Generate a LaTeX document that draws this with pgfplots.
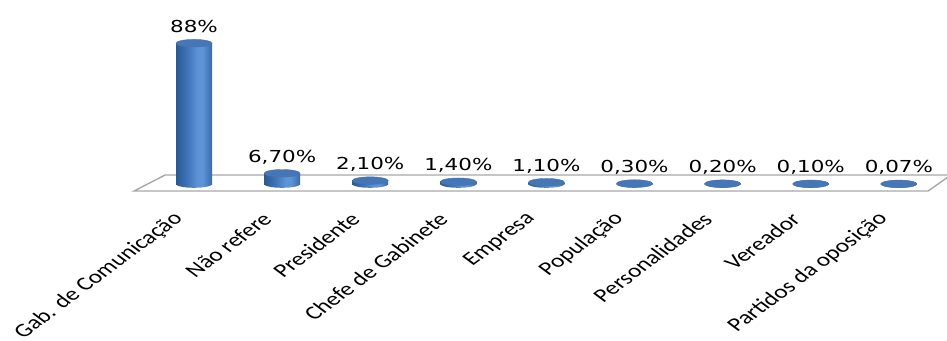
\documentclass[border=0pt]{standalone}
\usepackage{pgfplots}
\usepackage{pgfplotstable}
\pgfplotsset{compat=1.18}
\usepackage{fontspec}
\setmainfont{Carlito}
\newfontfamily\lblfont[FakeStretch=1.3]{DejaVu Sans}
\definecolor{barDark}{HTML}{2B5A92}
\definecolor{barMid}{HTML}{3E73B6}
\definecolor{barLight}{HTML}{5E94D7}
\definecolor{barEdge}{HTML}{3A69A6}
\definecolor{barTop}{HTML}{4577B8}
\definecolor{floorLine}{HTML}{A8A8A8}
\pgfdeclarehorizontalshading{cyl}{100bp}{color(0bp)=(barDark); color(25bp)=(barDark); color(40bp)=(barMid); color(55bp)=(barLight); color(62bp)=(barLight); color(75bp)=(barEdge); color(100bp)=(barEdge)}
\pgfdeclareplotmark{cylbottom}{%
  \pgfpathellipse{\pgfpointorigin}{\pgfqpoint{18pt}{0pt}}{\pgfqpoint{0pt}{3.8pt}}%
  \pgfshadepath{cyl}{0}%
  \pgfusepath{discard}}
\pgfplotstableread{
x y label
0 88 88\%
1 6.7 6,70\%
2 2.1 2,10\%
3 1.4 1,40\%
4 1.1 1,10\%
5 0.3 0,30\%
6 0.2 0,20\%
7 0.1 0,10\%
8 0.07 0,07\%
}\datatab
\begin{document}
\begin{tikzpicture}
\begin{axis}[
  scale only axis, width=808pt, height=180pt,
  xmin=-0.704, xmax=8.467, ymin=-10, ymax=102.5,
  axis line style={draw=none}, major tick length=0pt,
  ytick=\empty, xtick={0,...,8},
  xticklabels={Gab. de Comunicação, Não refere, Presidente, Chefe de Gabinete, Empresa, População, Personalidades, Vereador, Partidos da oposição},
  xticklabel style={font=\fontsize{19}{21}\selectfont, anchor=east, inner sep=0pt, xshift=-15pt, yshift=-16pt, cm={0.947,0.707,-0.947,0.707,(0,0)}},
  clip=false,
  cylbar/.style={ybar, bar width=36pt, bar shift=0pt, draw=none, shading=cyl, forget plot},
]
% floor
\addplot[draw=floorLine, line width=1.4pt, fill=white] coordinates {(-0.681,-4.4) (-0.329,5.6) (8.59,5.6) (8.332,-4.4)} -- cycle;
% bottom ellipses
\addplot[only marks, mark=cylbottom] table[x=x, y expr=0] {\datatab};
% bodies, one path per bar so that each carries its own shading
\addplot[cylbar] coordinates {(0,88)};
\addplot[cylbar] coordinates {(1,6.7)};
\addplot[cylbar] coordinates {(2,2.1)};
\addplot[cylbar] coordinates {(3,1.4)};
\addplot[cylbar] coordinates {(4,1.1)};
\addplot[cylbar] coordinates {(5,0.3)};
\addplot[cylbar] coordinates {(6,0.2)};
\addplot[cylbar] coordinates {(7,0.1)};
\addplot[cylbar] coordinates {(8,0.07)};
% top ellipses with labels
\addplot[only marks, mark=*, mark size=18pt, mark options={yscale=0.21, fill=barTop, draw=barDark!85, line width=0.4pt},
  nodes near coords, point meta=explicit symbolic,
  nodes near coords style={font=\lblfont\fontsize{16.5}{18}\selectfont, anchor=base, inner sep=0pt, yshift=11pt, text=black}] table[x=x, y=y, meta=label] {\datatab};
\end{axis}
\pgfresetboundingbox
\path[use as bounding box] (-132pt,-140pt) rectangle (815pt,200pt);
\end{tikzpicture}
\end{document}
